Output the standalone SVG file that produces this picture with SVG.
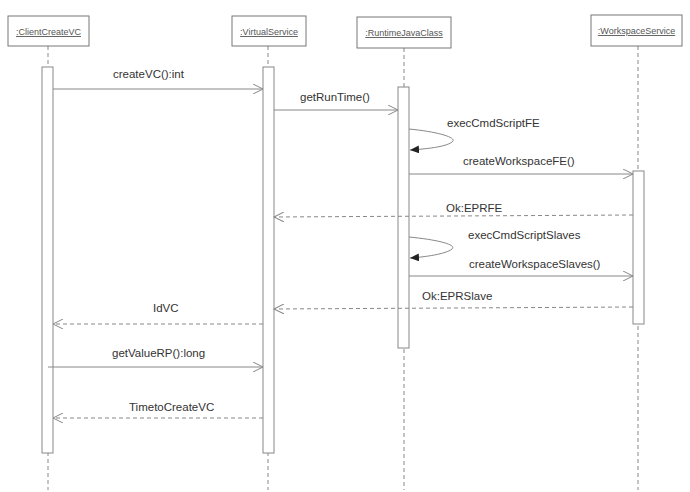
<svg xmlns="http://www.w3.org/2000/svg" width="690" height="492" viewBox="0 0 690 492">
<style>
.hdr{fill:#fff;stroke:#777;stroke-width:1}
.hdrt{font-family:"Liberation Sans",Arial,sans-serif;font-size:9px;fill:#555;text-anchor:middle;text-decoration:underline}
.life{stroke:#888;stroke-width:1;stroke-dasharray:4,3;fill:none}
.act{fill:#fff;stroke:#888;stroke-width:1}
.msg{stroke:#888;stroke-width:1;fill:none}
.ret{stroke:#888;stroke-width:1;fill:none;stroke-dasharray:4,3}
.lbl{font-family:"Liberation Sans",Arial,sans-serif;font-size:11.5px;fill:#333}
</style>
<defs>
<marker id="open" markerWidth="12" markerHeight="10" refX="10" refY="5" orient="auto" markerUnits="userSpaceOnUse">
<path d="M0,0 L10,5 L0,10" fill="none" stroke="#888" stroke-width="1"/>
</marker>
<marker id="filled" markerWidth="10" markerHeight="8" refX="9" refY="4" orient="auto" markerUnits="userSpaceOnUse">
<path d="M0,0 L9,4 L0,8 Z" fill="#222" stroke="none"/>
</marker>
</defs>
<rect width="690" height="492" fill="#fff"/>

<g id="lifelines">
<line class="life" x1="48" y1="46" x2="48" y2="490"/>
<line class="life" x1="268" y1="46" x2="268" y2="490"/>
<line class="life" x1="404" y1="48" x2="404" y2="490"/>
<line class="life" x1="638" y1="46" x2="638" y2="490"/>
</g>

<g id="ClientCreateVC">
<rect class="hdr" x="8" y="16" width="81" height="30"/>
<text class="hdrt" x="48.5" y="35">:ClientCreateVC</text>
<rect class="act" x="42" y="67" width="11" height="386"/>
</g>
<g id="VirtualService">
<rect class="hdr" x="232" y="16" width="74" height="30"/>
<text class="hdrt" x="269" y="35">:VirtualService</text>
<rect class="act" x="263" y="67" width="11" height="386"/>
</g>
<g id="RuntimeJavaClass">
<rect class="hdr" x="357" y="17" width="94" height="31"/>
<text class="hdrt" x="404" y="36">:RuntimeJavaClass</text>
<rect class="act" x="398" y="87" width="11" height="261"/>
</g>
<g id="WorkspaceService">
<rect class="hdr" x="591" y="15" width="91" height="31"/>
<text class="hdrt" x="636.5" y="34">:WorkspaceService</text>
<rect class="act" x="633" y="171" width="11" height="153"/>
</g>

<g id="connectors">
<line class="msg" x1="53" y1="89" x2="263" y2="89" marker-end="url(#open)"/>
<line class="msg" x1="274" y1="110" x2="398" y2="110" marker-end="url(#open)"/>
<path class="msg" d="M409,129 C440,132 458,138 452,142 C446,147 425,149 410,150" marker-end="url(#filled)"/>
<line class="msg" x1="409" y1="174" x2="633" y2="174" marker-end="url(#open)"/>
<line class="ret" x1="633" y1="215" x2="274" y2="217" marker-end="url(#open)"/>
<path class="msg" d="M409,237 C440,240 457,245 452,249 C446,254 425,257 410,258" marker-end="url(#filled)"/>
<line class="msg" x1="409" y1="276" x2="633" y2="276" marker-end="url(#open)"/>
<line class="ret" x1="633" y1="307" x2="274" y2="309" marker-end="url(#open)"/>
<line class="ret" x1="263" y1="324" x2="53" y2="324" marker-end="url(#open)"/>
<line class="msg" x1="48" y1="367" x2="263" y2="367" marker-end="url(#open)"/>
<line class="ret" x1="263" y1="418" x2="53" y2="418" marker-end="url(#open)"/>
</g>

<g id="labels">
<text class="lbl" x="113" y="78">createVC():int</text>
<text class="lbl" x="300" y="101">getRunTime()</text>
<text class="lbl" x="447" y="127">execCmdScriptFE</text>
<text class="lbl" x="463" y="165">createWorkspaceFE()</text>
<text class="lbl" x="446" y="212">Ok:EPRFE</text>
<text class="lbl" x="468" y="239">execCmdScriptSlaves</text>
<text class="lbl" x="469" y="268">createWorkspaceSlaves()</text>
<text class="lbl" x="422" y="300">Ok:EPRSlave</text>
<text class="lbl" x="153" y="312">IdVC</text>
<text class="lbl" x="112" y="357">getValueRP():long</text>
<text class="lbl" x="129" y="411">TimetoCreateVC</text>
</g>
</svg>
